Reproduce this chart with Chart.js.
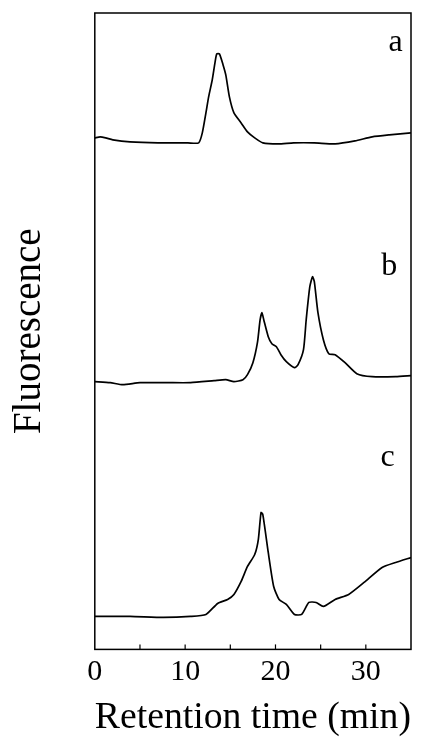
<!DOCTYPE html>
<html>
<head>
<meta charset="utf-8">
<script src="https://cdn.jsdelivr.net/npm/chart.js@4"></script>
<style>
  html, body { margin: 0; padding: 0; background: #fff; }
  canvas { display: block; }
</style>
</head>
<body>
<canvas id="chart" width="423" height="745"></canvas>
<script>
// retention time (min) and fluorescence (arbitrary, traces stacked)
const timeA = [0, 0.6, 1.2, 2.0, 3.9, 7, 10.3, 11.5, 11.9, 12.3, 12.6, 13.0, 13.3, 13.5, 13.8, 14.2, 14.5, 14.9, 15.4, 16.2, 16.9, 17.7, 18.6, 20.3, 22, 24.3, 26.6, 28.8, 30.7, 32.6, 35];
const sigA  = [512, 513, 512, 510, 508, 507, 507, 507, 517, 537, 553, 570, 587, 596, 596, 585, 575, 553, 537, 527, 518, 512, 507, 506, 507, 507, 506, 509, 513, 515, 517];

const timeB = [0, 1.7, 3.1, 5.0, 8.0, 10.6, 13.2, 14.5, 15.4, 16.4, 16.9, 17.5, 18.0, 18.3, 18.5, 18.7, 19.2, 19.6, 20.1, 20.6, 21.2, 22.1, 22.5, 23.1, 23.4, 23.8, 24.1, 24.3, 24.7, 25.3, 25.9, 26.6, 27.7, 29.0, 30.7, 33.3, 35];
const sigB  = [268, 267, 265, 267, 267, 267, 269, 270, 268, 270, 275, 287, 307, 330, 337, 330, 313, 306, 303, 295, 288, 282, 285, 300, 330, 363, 373, 368, 337, 310, 296, 295, 287, 276, 273, 273, 274];

const timeC = [0, 3.9, 7.6, 10.6, 12.3, 13.6, 14.7, 15.4, 16.2, 16.9, 17.7, 18.1, 18.4, 18.6, 19.2, 19.8, 20.4, 21.2, 22.1, 22.9, 23.7, 24.5, 25.3, 26.6, 28.1, 29.8, 31.8, 33.3, 35];
const sigC  = [33, 33, 32, 33, 35, 46, 50, 55, 68, 83, 95, 110, 137, 135, 97, 63, 50, 45, 35, 35, 47, 47, 43, 50, 55, 67, 82, 87, 92];

const traceNames = ["a", "b", "c"];
const xTicks = [0, 10, 20, 30];
const minorTicks = [5, 10, 15, 20, 25, 30];

const toPts = (t, s) => t.map((x, i) => ({x: x, y: s[i]}));

const serif = "'Liberation Serif', 'DejaVu Serif', serif";

// where the a/b/c letters sit, in data units
const letterPos = [{x: 33.3, y: 607}, {x: 32.6, y: 383}, {x: 32.4, y: 192}];

const framePlugin = {
  id: 'frame',
  afterDraw(chart) {
    const ctx = chart.ctx, a = chart.chartArea;
    const xs = chart.scales.x, ys = chart.scales.y;
    ctx.save();
    ctx.strokeStyle = '#000';
    ctx.lineWidth = 1.5;
    ctx.strokeRect(a.left, a.top, a.right - a.left, a.bottom - a.top);
    // tick marks pointing inward
    ctx.lineWidth = 1.2;
    minorTicks.forEach(v => {
      const px = xs.getPixelForValue(v);
      ctx.beginPath();
      ctx.moveTo(px, a.bottom);
      ctx.lineTo(px, a.bottom - 5);
      ctx.stroke();
    });
    ctx.fillStyle = '#000';
    ctx.font = "32px " + serif;
    ctx.textAlign = 'center';
    ctx.textBaseline = 'middle';
    traceNames.forEach((n, i) => {
      ctx.fillText(n, xs.getPixelForValue(letterPos[i].x), ys.getPixelForValue(letterPos[i].y));
    });
    ctx.restore();
  }
};

new Chart(document.getElementById('chart'), {
  type: 'line',
  data: {
    datasets: [
      {label: 'a', data: toPts(timeA, sigA)},
      {label: 'b', data: toPts(timeB, sigB)},
      {label: 'c', data: toPts(timeC, sigC)}
    ].map(d => Object.assign(d, {borderColor: '#000', borderWidth: 1.7, pointRadius: 0, tension: 0.2, fill: false}))
  },
  options: {
    responsive: false,
    animation: false,
    layout: {padding: {top: 13, right: 12, left: 6, bottom: 4}},
    plugins: {legend: {display: false}, tooltip: {enabled: false}},
    scales: {
      x: {
        type: 'linear', min: 0, max: 35,
        grid: {display: false, drawTicks: false},
        border: {display: false},
        afterBuildTicks: s => { s.ticks = xTicks.map(v => ({value: v})); },
        ticks: {color: '#000', font: {family: serif, size: 30}, padding: 5, maxRotation: 0},
        title: {display: true, text: 'Retention time (min)', color: '#000', font: {family: serif, size: 38}, padding: {top: 0, bottom: 0}}
      },
      y: {
        min: 0, max: 637,
        grid: {display: false, drawTicks: false},
        border: {display: false},
        ticks: {display: false},
        title: {display: true, text: 'Fluorescence', color: '#000', font: {family: serif, size: 39}, padding: {top: 0, bottom: 42}}
      }
    }
  },
  plugins: [framePlugin]
});
</script>
</body>
</html>
